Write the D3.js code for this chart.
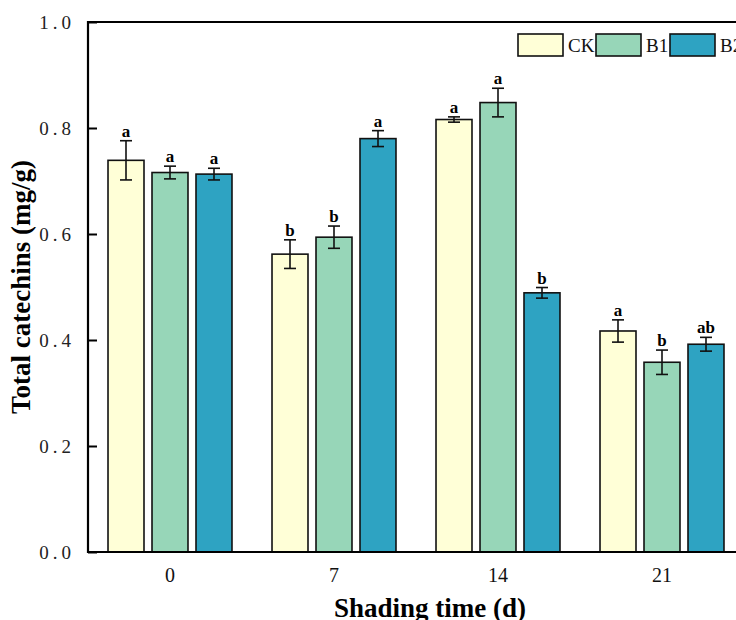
<!DOCTYPE html>
<html>
<head>
<meta charset="utf-8">
<script src="https://cdn.jsdelivr.net/npm/d3@7"></script>
<style>
  body { margin: 0; background: #fff; }
  text { font-family: "Liberation Serif", "Times New Roman", serif; }
</style>
</head>
<body>
<script>
// data
var groups = ["0", "7", "14", "21"];
var series = ["CK", "B1", "B2"];
var colors = ["#FFFFD7", "#97D6B8", "#2EA3C2"];
var means = {
  CK: [0.739, 0.562, 0.816, 0.417],
  B1: [0.716, 0.594, 0.848, 0.358],
  B2: [0.713, 0.780, 0.489, 0.392]
};
var errs = {
  CK: [0.037, 0.027, 0.005, 0.021],
  B1: [0.012, 0.021, 0.027, 0.023],
  B2: [0.011, 0.015, 0.010, 0.013]
};
var letters = {
  CK: ["a", "b", "a", "a"],
  B1: ["a", "b", "a", "b"],
  B2: ["a", "a", "b", "ab"]
};
var yTicks = [0, 0.2, 0.4, 0.6, 0.8, 1.0];

//Width and height
var w = 736;
var h = 620;
var mLeft = 88, mRight = 744, mTop = 22, mBottom = 552;

var svg = d3.select("body")
  .append("svg")
  .attr("width", w)
  .attr("height", h);

var x0 = d3.scaleBand().domain(groups).range([mLeft, mRight])
  .paddingInner(0.244).paddingOuter(0.122);
var x1 = d3.scaleBand().domain(series).range([0, x0.bandwidth()])
  .paddingInner(0.182).paddingOuter(0);
var y = d3.scaleLinear().domain([0, 1]).range([mBottom, mTop]);
var color = d3.scaleOrdinal().domain(series).range(colors);

// flatten to rows
var rows = [];
groups.forEach(function (g, i) {
  series.forEach(function (s) {
    rows.push({ g: g, s: s, v: means[s][i], e: errs[s][i], l: letters[s][i] });
  });
});

var bar = svg.append("g").selectAll("g")
  .data(rows)
  .enter()
  .append("g")
  .attr("transform", function (d) { return "translate(" + (x0(d.g) + x1(d.s)) + ",0)"; });

bar.append("rect")
  .attr("y", function (d) { return y(d.v); })
  .attr("width", x1.bandwidth())
  .attr("height", function (d) { return mBottom - y(d.v); })
  .style("fill", function (d) { return color(d.s); })
  .style("stroke", "#111")
  .style("stroke-width", 1.6);

// error bars
var cx = x1.bandwidth() / 2, cap = 6;
bar.append("line")
  .attr("x1", cx).attr("x2", cx)
  .attr("y1", function (d) { return y(d.v + d.e); })
  .attr("y2", function (d) { return y(d.v - d.e); });
bar.append("line")
  .attr("x1", cx - cap).attr("x2", cx + cap)
  .attr("y1", function (d) { return y(d.v + d.e); })
  .attr("y2", function (d) { return y(d.v + d.e); });
bar.append("line")
  .attr("x1", cx - cap).attr("x2", cx + cap)
  .attr("y1", function (d) { return y(d.v - d.e); })
  .attr("y2", function (d) { return y(d.v - d.e); });
bar.selectAll("line").style("stroke", "#111").style("stroke-width", 1.6);

bar.append("text")
  .attr("x", cx)
  .attr("y", function (d) { return y(d.v + d.e) - 4; })
  .attr("text-anchor", "middle")
  .style("font-size", "17px")
  .style("font-weight", "bold")
  .text(function (d) { return d.l; });

// y axis
var yAxis = d3.axisLeft(y).tickValues(yTicks).tickSize(-9).tickPadding(13)
  .tickFormat(d3.format(".1f"));
var ya = svg.append("g").attr("transform", "translate(" + mLeft + ",0)").call(yAxis);
ya.select(".domain").remove();
ya.selectAll(".tick line").style("stroke", "#000").style("stroke-width", 2);
ya.selectAll(".tick text")
  .style("font-family", "'Liberation Serif', serif")
  .style("font-size", "19px")
  .style("letter-spacing", "4px")
  .style("fill", "#222")
  .attr("dy", "0.35em");

// x axis labels
var xAxis = d3.axisBottom(x0).tickSize(0).tickPadding(16);
var xa = svg.append("g").attr("transform", "translate(0," + mBottom + ")").call(xAxis);
xa.select(".domain").remove();
xa.selectAll(".tick text").style("font-size", "20px").style("fill", "#111");

// frame
svg.append("path")
  .attr("d", "M" + mRight + "," + mTop + "H" + mLeft + "V" + mBottom + "H" + mRight)
  .style("fill", "none")
  .style("stroke", "#000")
  .style("stroke-width", 2.2);

// titles
svg.append("text")
  .attr("transform", "translate(30," + ((mTop + mBottom) / 2) + ") rotate(-90)")
  .attr("text-anchor", "middle")
  .style("font-size", "27px")
  .style("font-weight", "bold")
  .text("Total catechins (mg/g)");

svg.append("text")
  .attr("x", 430)
  .attr("y", 617)
  .attr("text-anchor", "middle")
  .style("font-size", "27px")
  .style("font-weight", "bold")
  .text("Shading time (d)");

// legend
var legX = [518, 596, 670];
var leg = svg.append("g").selectAll("g")
  .data(series)
  .enter()
  .append("g")
  .attr("transform", function (d, i) { return "translate(" + legX[i] + ",34)"; });
leg.append("rect")
  .attr("width", 45).attr("height", 22)
  .style("fill", function (d) { return color(d); })
  .style("stroke", "#111").style("stroke-width", 1.6);
leg.append("text")
  .attr("x", 50).attr("y", 18)
  .style("font-size", "19px")
  .style("fill", "#111")
  .text(function (d) { return d; });
</script>
</body>
</html>
